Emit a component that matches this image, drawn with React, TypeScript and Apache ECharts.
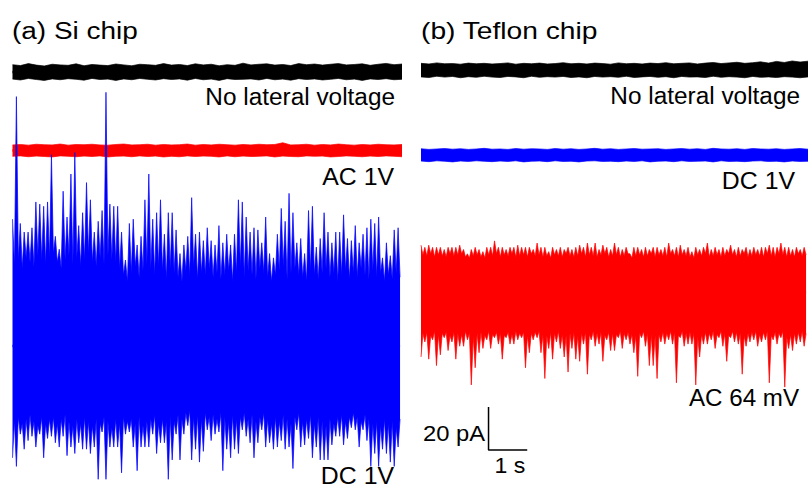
import React, { useEffect, useRef } from "react";
import * as echarts from "echarts";

// ---------- data (currents in pA relative to each trace's own baseline) ----------
const SPAN_S = 10; // each recording shows 10 s

// (a) Si chip — no lateral voltage (black): upper / lower envelope
const siNoneUpper = [3.4,3.0,3.9,3.2,2.8,3.6,3.3,3.1,3.8,2.9, 3.5,3.2,3.0,3.7,3.3,2.9,3.6,3.4,3.1,3.9, 3.2,3.5,3.0,3.8,3.3,3.6,2.9,3.4,3.1,4.1, 3.3,3.6,3.8,3.2,3.5,3.0,3.9,3.4,3.7,3.2, 3.6,3.9,3.3,3.5,3.8,3.1,3.6,4.0,3.4,3.7];
const siNoneLower = [-3.3,-3.7,-3.0,-3.5,-3.9,-3.2,-3.6,-3.1,-3.4,-3.8, -3.0,-3.5,-3.3,-3.9,-3.2,-3.6,-3.0,-3.4,-3.7,-3.1, -3.5,-3.2,-3.8,-3.0,-3.6,-3.3,-3.9,-3.1,-3.5,-3.4, -3.2,-3.7,-3.0,-3.6,-3.3,-3.8,-3.1,-3.5,-3.2,-3.7, -3.4,-3.0,-3.6,-3.3,-3.9,-3.2,-3.5,-3.1,-3.6,-3.4];

// (a) Si chip — AC 1V (red)
const siAcUpper = [2.6,2.8,2.5,2.9,2.7,2.6,3.0,2.5,2.8,2.7, 2.9,2.6,2.5,2.8,3.0,2.6,2.7,2.9,2.5,2.8, 2.6,2.7,3.0,2.5,2.8,2.6,2.9,2.7,2.5,2.8, 2.6,2.9,2.7,2.8,3.6,2.6,2.7,2.9,2.5,2.8, 2.6,3.0,2.7,2.5,2.8,2.6,2.9,2.7,2.6,2.8];
const siAcLower = [-2.7,-2.5,-2.9,-2.6,-2.8,-3.0,-2.5,-2.7,-2.9,-2.6, -2.8,-2.5,-3.0,-2.7,-2.6,-2.9,-2.5,-2.8,-2.6,-3.0, -2.7,-2.9,-2.5,-2.8,-2.6,-2.7,-3.0,-2.5,-2.9,-2.6, -2.8,-2.7,-2.5,-3.0,-2.6,-2.8,-2.9,-2.5,-2.7,-2.6, -3.0,-2.8,-2.5,-2.7,-2.9,-2.6,-2.8,-2.5,-2.7,-2.9];

// (a) Si chip — DC 1V (blue): spike tips and the gaps between them, per 0.1 s
const siDcPeakUp = [59,116,57,53,53,55,67,66,65,67, 89,51,45,72,60,80,90,56,62,76, 68,53,58,63,118,66,65,65,53,40, 57,59,47,51,68,80,59,62,68,52, 62,62,54,43,47,51,69,52,53,49, 55,49,47,56,48,52,47,52,68,67, 60,53,55,54,48,60,43,41,52,64, 58,71,62,48,50,43,63,65,46,50, 62,53,48,53,53,61,50,49,56,48, 52,55,59,57,60,41,48,42,54,55];
const siDcGapUp = [38,40,36,41,39,37,42,40,38,41, 43,39,36,40,42,38,41,37,40,43, 39,37,41,38,42,40,39,36,33,30, 34,37,32,35,38,36,33,37,35,31, 36,34,32,30,35,33,37,31,34,33, 36,32,34,31,33,35,30,34,37,32, 35,33,31,36,34,32,30,33,35,37, 31,34,36,33,32,30,35,33,31,34, 36,32,34,30,33,35,31,34,32,36, 33,31,35,32,34,30,33,31,34,32];
const siDcPeakDown = [-52,-56,-41,-48,-44,-42,-47,-41,-52,-43, -42,-45,-47,-42,-51,-47,-50,-45,-48,-48, -50,-47,-62,-40,-62,-47,-47,-47,-59,-41, -40,-47,-58,-47,-47,-47,-41,-50,-45,-45, -62,-53,-41,-53,-41,-37,-53,-48,-54,-49, -39,-44,-41,-40,-58,-48,-52,-48,-50,-39, -42,-45,-52,-45,-39,-47,-45,-48,-47,-44, -48,-47,-57,-39,-47,-46,-43,-52,-47,-53, -53,-53,-46,-42,-42,-46,-43,-38,-39,-47, -39,-44,-56,-50,-56,-48,-50,-54,-56,-47];
const siDcGapDown = [-35,-33,-36,-34,-32,-35,-37,-33,-36,-34, -33,-36,-34,-32,-35,-37,-34,-36,-33,-35, -37,-34,-36,-33,-35,-38,-34,-36,-33,-35, -34,-36,-33,-37,-35,-34,-32,-36,-34,-35, -33,-35,-32,-34,-31,-30,-33,-32,-34,-31, -33,-32,-34,-31,-33,-35,-32,-34,-33,-31, -34,-32,-35,-33,-31,-34,-36,-33,-35,-32, -34,-36,-33,-31,-35,-34,-32,-36,-33,-35, -37,-34,-36,-33,-32,-35,-33,-31,-33,-35, -32,-34,-36,-35,-37,-34,-36,-35,-38,-34];

// (b) Teflon chip — no lateral voltage (black)
const tfNoneUpper = [3.1,2.8,3.3,2.9,3.0,2.7,3.2,2.9,3.1,2.8, 3.0,3.3,2.7,3.1,2.9,3.2,2.8,3.0,3.4,2.9, 3.1,2.8,3.2,3.0,2.7,3.3,2.9,3.1,2.8,3.2, 3.0,3.4,2.9,3.1,3.3,2.8,3.2,3.5,3.0,3.3, 3.6,3.1,3.4,3.8,3.2,4.0,3.5,4.2,3.7,4.1];
const tfNoneLower = [-3.2,-3.5,-2.9,-3.3,-3.0,-3.6,-3.1,-3.4,-2.9,-3.3, -3.5,-3.0,-3.2,-3.6,-2.9,-3.4,-3.1,-3.3,-3.0,-3.5, -3.2,-3.6,-3.0,-3.3,-3.1,-3.4,-2.9,-3.5,-3.2,-3.0, -3.4,-3.1,-3.6,-3.0,-3.3,-3.2,-3.5,-2.9,-3.4,-3.1, -3.3,-3.6,-3.0,-3.4,-3.2,-3.5,-3.1,-3.3,-3.6,-3.2];

// (b) Teflon chip — DC 1V (blue)
const tfDcUpper = [2.9,2.6,2.8,3.0,2.7,2.9,2.6,2.8,3.1,2.7, 2.8,2.6,3.0,2.7,2.9,2.8,2.6,3.0,2.7,2.9, 2.6,2.8,3.1,2.7,2.9,2.6,2.8,3.0,2.7,2.8, 2.9,2.6,2.8,3.0,2.7,2.9,2.6,3.1,2.8,2.7, 2.9,2.6,3.0,2.8,2.7,2.9,2.6,2.8,3.0,2.7];
const tfDcLower = [-2.8,-3.1,-2.7,-2.9,-3.2,-2.8,-3.0,-2.7,-2.9,-3.1, -2.8,-3.0,-2.7,-3.2,-2.9,-2.8,-3.1,-2.7,-3.0,-2.9, -3.2,-2.8,-2.7,-3.0,-2.9,-3.1,-2.8,-3.0,-2.7,-3.2, -2.9,-2.8,-3.1,-2.7,-3.0,-2.9,-2.8,-3.2,-2.7,-3.0, -2.9,-3.1,-2.8,-2.7,-3.0,-2.9,-3.2,-2.8,-3.0,-2.9];

// (b) Teflon chip — AC 64 mV (red): spike tips and gaps, per 0.1 s
const tfAcPeakUp = [22,21,22,21,21,21,20,21,21,21, 22,20,18,20,21,20,19,21,21,24, 21,21,20,21,21,22,21,21,21,20, 23,21,21,19,21,20,21,20,21,20, 21,22,21,23,21,23,20,22,21,20, 23,21,20,21,18,21,21,20,21,20, 21,21,20,21,23,20,21,22,20,21, 19,21,20,21,23,20,21,20,21,20, 22,20,21,20,21,20,21,20,21,21, 22,21,21,23,21,21,20,21,20,21];
const tfAcGapUp = [17.5,17,18,16.5,17.5,17,16.5,18,17,17.5, 18,16.5,16,17,17.5,16.5,16,17.5,17,18, 16.5,17.5,17,18,16.5,17,17.5,16.5,18,17, 17.5,16.5,17,16,17.5,17,16.5,18,17,16.5, 17,18,16.5,17.5,17,16.5,17.5,18,16.5,17, 17.5,16.5,17,18,16,17,17.5,16.5,17,18, 16.5,17.5,17,16.5,18,17,16.5,17.5,17,16.5, 16,17.5,17,18,16.5,17,17.5,16.5,17,18, 17.5,16.5,17,18,16.5,17,17.5,17,16.5,18, 17,16.5,18,17.5,16.5,17,16.5,18,17,17.5];
const tfAcPeakDown = [-30,-23,-31,-22,-34,-29,-21,-27,-23,-31, -25,-25,-22,-43,-35,-28,-26,-22,-26,-21, -24,-31,-21,-24,-24,-22,-21,-35,-28,-22, -21,-28,-40,-26,-31,-23,-26,-30,-37,-26, -31,-32,-24,-38,-22,-25,-24,-32,-22,-27, -27,-21,-26,-22,-24,-28,-39,-21,-25,-34, -34,-40,-23,-24,-22,-24,-42,-21,-25,-24, -24,-43,-30,-24,-24,-22,-26,-21,-25,-32, -21,-23,-24,-38,-25,-23,-22,-25,-23,-22, -42,-22,-24,-21,-44,-26,-27,-24,-23,-25];
const tfAcGapDown = [-19,-18.5,-20,-18,-19.5,-19,-18.5,-20,-18.5,-19, -19.5,-18,-19,-20.5,-19,-18.5,-20,-18,-19.5,-18.5, -19,-20,-18.5,-19.5,-18,-19,-18.5,-20,-19,-18.5, -18,-19.5,-20,-18.5,-19,-18,-19.5,-20,-19,-18.5, -20,-19,-18.5,-19.5,-18,-19,-18.5,-20,-18.5,-19, -19.5,-18,-19,-18.5,-19.5,-20,-19,-18,-19,-19.5, -20,-19.5,-18.5,-19,-18,-18.5,-20,-18,-19,-18.5, -19,-20.5,-19.5,-18.5,-19,-18,-19.5,-18,-19,-20, -18,-18.5,-19,-20,-19,-18.5,-18,-19.5,-18.5,-18, -20,-18.5,-19,-18,-20.5,-19.5,-19,-18.5,-18,-19];

// scale bar
const scaleBarCurrentPA = 20;
const scaleBarTimeS = 1;

// ---------- layout ----------
const W = 808;
const H = 488;
const PX_PER_PA = 2.15;
const YMAX = H / PX_PER_PA;
const FONT = '"Liberation Sans", Arial, Helvetica, sans-serif';
const BLACK = "#000000";
const RED = "#ff0000";
const BLUE = "#0000ff";

// one edge (upper or lower) of a noisy trace, filled back to the baseline
function edge(
  name: string,
  tips: number[],
  gaps: number[] | null,
  baseline: number,
  dir: number,
  color: string,
  g: number
) {
  const n = tips.length;
  const data: number[][] = [];
  if (gaps) {
    const dt = SPAN_S / n;
    for (let i = 0; i < n; i++) {
      data.push([i * dt, baseline + tips[i]]);
      data.push([i * dt + dt / 2, baseline + gaps[i]]);
    }
  } else {
    const dt = SPAN_S / (n - 1);
    for (let i = 0; i < n; i++) data.push([i * dt, baseline + tips[i]]);
  }
  return {
    name,
    type: "line",
    xAxisIndex: g,
    yAxisIndex: g,
    data,
    symbol: "none",
    showSymbol: false,
    silent: true,
    clip: false,
    lineStyle: { color, width: 0.7 },
    itemStyle: { color },
    areaStyle: { color, opacity: 1, origin: baseline - dir * 0.6 },
  };
}

function trace(
  name: string,
  up: number[],
  upGaps: number[] | null,
  down: number[],
  downGaps: number[] | null,
  baseline: number,
  color: string,
  g: number
) {
  return [
    edge(name + " +", up, upGaps, baseline, 1, color, g),
    edge(name + " -", down, downGaps, baseline, -1, color, g),
  ];
}

export default function App() {
  const ref = useRef<HTMLDivElement>(null);
  useEffect(() => {
    document.body.style.margin = "0";
    const chart = echarts.init(ref.current!, null, { renderer: "svg" });
    const yOf = (py: number) => (H - py) / PX_PER_PA;
    const sbX = 1.745;
    const sbY = yOf(450);
    const label = (text: string, x: number, y: number, align: string, size = 23, scaleX = 1.06) => ({
      type: "text",
      x,
      y,
      scaleX,
      silent: true,
      style: {
        text,
        x: 0,
        y: 0,
        fill: "#000",
        fontSize: size,
        fontFamily: FONT,
        textAlign: align,
        textVerticalAlign: "middle",
      },
    });
    const option: any = {
      animation: false,
      backgroundColor: "#ffffff",
      grid: [
        { left: 12.5, top: 0, width: 389.5, height: H },
        { left: 421, top: 0, width: 390, height: H },
      ],
      xAxis: [
        { type: "value", gridIndex: 0, min: 0, max: SPAN_S, show: false },
        { type: "value", gridIndex: 1, min: 0, max: SPAN_S, show: false },
      ],
      yAxis: [
        { type: "value", gridIndex: 0, min: 0, max: YMAX, show: false },
        { type: "value", gridIndex: 1, min: 0, max: YMAX, show: false },
      ],
      series: [
        ...trace("Si none", siNoneUpper, null, siNoneLower, null, yOf(72), BLACK, 0),
        ...trace("Si AC 1V", siAcUpper, null, siAcLower, null, yOf(150.5), RED, 0),
        ...trace("Si DC 1V", siDcPeakUp, siDcGapUp, siDcPeakDown, siDcGapDown, yOf(346), BLUE, 0),
        ...trace("Teflon none", tfNoneUpper, null, tfNoneLower, null, yOf(70), BLACK, 1),
        ...trace("Teflon DC 1V", tfDcUpper, null, tfDcLower, null, yOf(155), BLUE, 1),
        ...trace("Teflon AC 64 mV", tfAcPeakUp, tfAcGapUp, tfAcPeakDown, tfAcGapDown, yOf(292.5), RED, 1),
        {
          name: "scale bar",
          type: "line",
          xAxisIndex: 1,
          yAxisIndex: 1,
          symbol: "none",
          silent: true,
          clip: false,
          lineStyle: { color: "#000", width: 1.5 },
          data: [
            [sbX, sbY + scaleBarCurrentPA],
            [sbX, sbY],
            [sbX + scaleBarTimeS, sbY],
          ],
        },
      ],
      graphic: [
        label("(a) Si chip", 12, 31, "left", 23.5, 1.19),
        label("(b) Teflon chip", 421, 31, "left", 23.5, 1.2),
        label("No lateral voltage", 395, 97, "right"),
        label("AC 1V", 394, 177, "right", 23, 1.08),
        label("DC 1V", 394, 476, "right", 23, 1.08),
        label("No lateral voltage", 800, 96.5, "right"),
        label("DC 1V", 795, 181, "right", 23, 1.08),
        label("AC 64 mV", 799, 398, "right", 23, 1.05),
        label("20 pA", 485, 433, "right", 22, 1.08),
        label("1 s", 510, 466, "center", 22, 1.05),
      ],
    };
    chart.setOption(option);
    return () => chart.dispose();
  }, []);
  return <div ref={ref} style={{ width: W, height: H }} />;
}
